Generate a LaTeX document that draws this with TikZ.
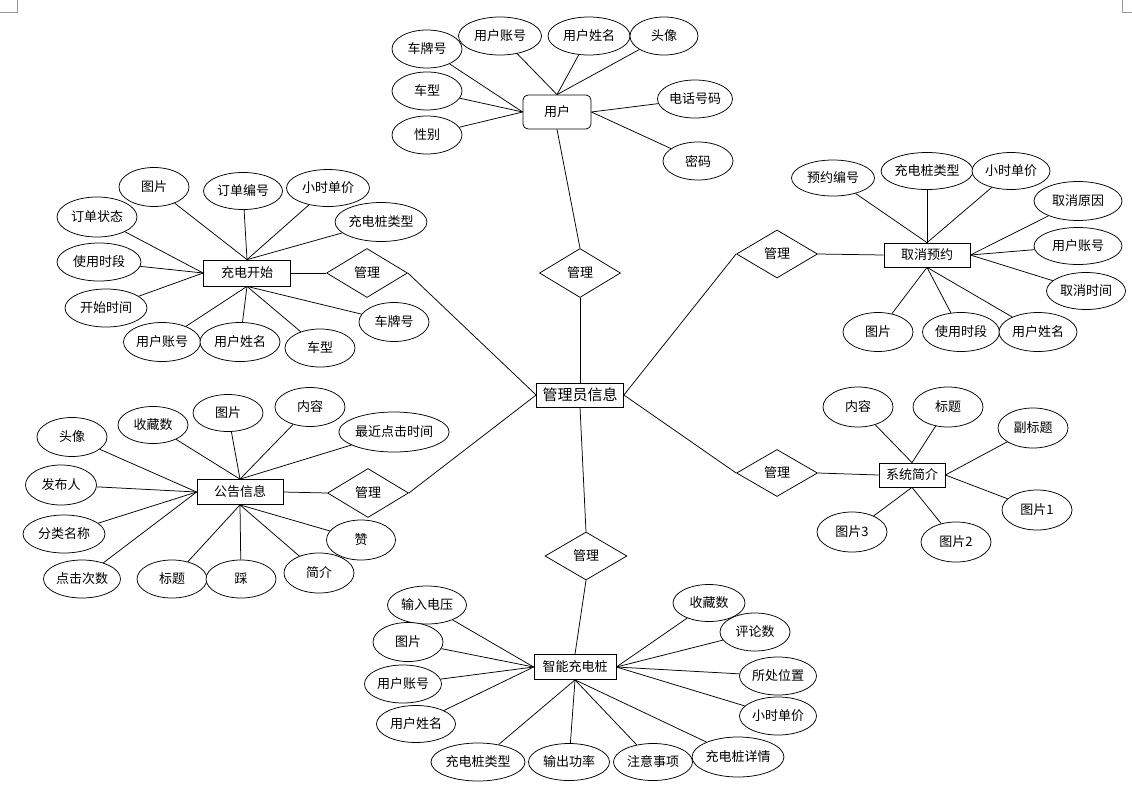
\documentclass[tikz,border=0pt]{standalone}
\usepackage{fontspec}
\setmainfont{Noto Sans CJK SC}
\usetikzlibrary{shapes.geometric}
\newcommand\attrfont{\fontsize{13}{15}\selectfont}
\newcommand\bigfont{\fontsize{15}{17}\selectfont}
\begin{document}
\begin{tikzpicture}[x=1pt,y=-1pt,line width=0.75pt,
  attr/.style={ellipse,draw,fill=white,inner sep=0pt,minimum height=38pt,minimum width=#1,font=\attrfont},
  attr/.default=70pt,
  ent/.style={rectangle,draw,fill=white,inner sep=0pt,minimum height=25pt,minimum width=#1,font=\attrfont},
  ent/.default=86pt,
  rel/.style={diamond,draw,fill=white,inner sep=0pt,minimum width=81pt,minimum height=49pt,font=\attrfont},
  corner/.style={draw=gray!80,line width=0.9pt}]
\useasboundingbox (0,0) rectangle (1132,793);
\draw[corner] (17,0) -- (17,12) -- (0,12);
\draw[corner] (1122,0) -- (1122,12) -- (1132,12);

% centre
\node[ent=87pt,minimum height=24pt,font=\bigfont] (a) at (580,395) {管理员信息};

% user
\node[ent=68pt,minimum height=34pt,rounded corners=5pt] (u) at (557,112) {用户};
\node[attr=70pt] (u1) at (427,49) {车牌号};
\node[attr=83pt] (u2) at (500,36) {用户账号};
\node[attr=82pt] (u3) at (589,36) {用户姓名};
\node[attr=68pt] (u4) at (664,36) {头像};
\node[attr=70pt] (u5) at (427,91) {车型};
\node[attr=70pt] (u6) at (427,135) {性别};
\node[attr=75pt] (u7) at (695,99) {电话号码};
\node[attr=70pt] (u8) at (698,161) {密码};
\node[rel] (r1) at (580,273) {管理};
\foreach \i in {1,5,6} \draw (u\i) -- (u.west);
\foreach \i in {2,3,4} \draw (u\i) -- (u.north);
\foreach \i in {7,8} \draw (u\i) -- (u.east);
\draw (u.south) -- (r1.north);
\draw (r1.south) -- (a.north);

% charging start
\node[ent=87pt,minimum height=26pt] (c) at (247,273) {充电开始};
\node[rel] (r2) at (367,273) {管理};
\node[attr=70pt,minimum height=39pt] (c1) at (154,187) {图片};
\node[attr=79pt,minimum height=37pt] (c2) at (243,191) {订单编号};
\node[attr=83pt,minimum height=37pt] (c3) at (328,188) {小时单价};
\node[attr=82pt,minimum height=39pt] (c4) at (381,222) {充电桩类型};
\node[attr=80pt,minimum height=40pt] (c5) at (97,217) {订单状态};
\node[attr=84pt] (c6) at (99,262) {使用时段};
\node[attr=82pt] (c7) at (106,308) {开始时间};
\node[attr=77pt,minimum height=39pt] (c8) at (162,342) {用户账号};
\node[attr=80pt,minimum height=39pt] (c9) at (240,342) {用户姓名};
\node[attr=70pt] (c10) at (320,348) {车型};
\node[attr=70pt,minimum height=39pt] (c11) at (394,322) {车牌号};
\foreach \i in {1,2,3,4} \draw (c\i) -- (c.north);
\foreach \i in {5,6,7} \draw (c\i) -- (c.west);
\foreach \i in {8,9,10,11} \draw (c\i) -- (c.south);
\draw (c.east) -- (r2.west);
\draw (r2.east) -- (a.west);

% cancel reservation
\node[ent=86pt,minimum height=24pt] (k) at (927,255) {取消预约};
\node[rel,minimum height=48pt] (r3) at (777,254) {管理};
\node[attr=83pt,minimum height=36pt] (k1) at (833,178) {预约编号};
\node[attr=90pt,minimum height=37pt] (k2) at (927,171) {充电桩类型};
\node[attr=78pt,minimum height=37pt] (k3) at (1011,171) {小时单价};
\node[attr=88pt,minimum height=39pt] (k4) at (1078,201) {取消原因};
\node[attr=88pt,minimum height=37pt] (k5) at (1078,246) {用户账号};
\node[attr=79pt,minimum height=37pt] (k6) at (1086,291) {取消时间};
\node[attr=70pt,minimum height=39pt] (k7) at (878,332) {图片};
\node[attr=77pt,minimum height=39pt] (k8) at (961,332) {使用时段};
\node[attr=78pt,minimum height=39pt] (k9) at (1038,332) {用户姓名};
\foreach \i in {1,2,3} \draw (k\i) -- (k.north);
\foreach \i in {4,5,6} \draw (k\i) -- (k.east);
\foreach \i in {7,8,9} \draw (k\i) -- (k.south);
\draw (r3.east) -- (k.west);
\draw (a.east) -- (r3.west);

% notices
\node[ent=86pt] (n) at (240,492) {公告信息};
\node[rel] (r4) at (368,493) {管理};
\node[attr=70pt,minimum height=37pt] (n1) at (153,425) {收藏数};
\node[attr=70pt,minimum height=37pt] (n2) at (228,413) {图片};
\node[attr=70pt,minimum height=39pt] (n3) at (310,407) {内容};
\node[attr=105pt,minimum height=40pt] (n4) at (394,432) {最近点击时间};
\node[attr=70pt,minimum height=39pt] (n5) at (72,437) {头像};
\node[attr=71pt,minimum height=40pt] (n6) at (61,485) {发布人};
\node[attr=82pt] (n7) at (64,534) {分类名称};
\node[attr=77pt] (n8) at (82,579) {点击次数};
\node[attr=70pt] (n9) at (172,579) {标题};
\node[attr=70pt] (n10) at (241,579) {踩};
\node[attr=70pt,minimum height=40pt] (n11) at (319,573) {简介};
\node[attr=69pt,minimum height=40pt] (n12) at (361,540) {赞};
\foreach \i in {1,2,3,4} \draw (n\i) -- (n.north);
\foreach \i in {5,6,7,8} \draw (n\i) -- (n.west);
\foreach \i in {9,10,11,12} \draw (n\i) -- (n.south);
\draw (n.east) -- (r4.west);
\draw (r4.east) -- (a.west);

% system intro
\node[ent=66pt,minimum height=24pt] (s) at (912,475) {系统简介};
\node[rel,minimum height=47pt] (r5) at (777,473) {管理};
\node[attr=70pt,minimum height=40pt] (s1) at (858,407) {内容};
\node[attr=70pt,minimum height=40pt] (s2) at (948,407) {标题};
\node[attr=70pt,minimum height=40pt] (s3) at (1033,428) {副标题};
\node[attr=70pt,minimum height=40pt] (s4) at (1037,510) {图片1};
\node[attr=70pt,minimum height=40pt] (s5) at (956,542) {图片2};
\node[attr=70pt,minimum height=40pt] (s6) at (852,532) {图片3};
\foreach \i in {1,2} \draw (s\i) -- (s.north);
\foreach \i in {3,4} \draw (s\i) -- (s.east);
\foreach \i in {5,6} \draw (s\i) -- (s.south);
\draw (a.east) -- (r5.west);
\draw (r5.east) -- (s.west);

% smart charging pile
\node[ent=82pt] (p) at (575,667) {智能充电桩};
\node[rel,minimum width=82pt,minimum height=48pt] (r6) at (586,556) {管理};
\node[attr=79pt] (p1) at (427,605) {输入电压};
\node[attr=70pt,minimum height=39pt] (p2) at (408,642) {图片};
\node[attr=77pt] (p3) at (403,684) {用户账号};
\node[attr=79pt,minimum height=37pt] (p4) at (416,724) {用户姓名};
\node[attr=94pt] (p5) at (478,762) {充电桩类型};
\node[attr=81pt,minimum height=37pt] (p6) at (569,762) {输出功率};
\node[attr=79pt,minimum height=37pt] (p7) at (653,762) {注意事项};
\node[attr=90pt,minimum height=40pt] (p8) at (738,757) {充电桩详情};
\node[attr=72pt,minimum height=37pt] (p9) at (709,603) {收藏数};
\node[attr=70pt] (p10) at (755,632) {评论数};
\node[attr=77pt] (p11) at (778,676) {所处位置};
\node[attr=77pt] (p12) at (778,716) {小时单价};
\foreach \i in {1,2,3,4} \draw (p\i) -- (p.west);
\foreach \i in {5,6,7,8} \draw (p\i) -- (p.south);
\foreach \i in {9,10,11,12} \draw (p\i) -- (p.east);
\draw (a.south) -- (r6.north);
\draw (r6.south) -- (p.north);
\end{tikzpicture}
\end{document}
